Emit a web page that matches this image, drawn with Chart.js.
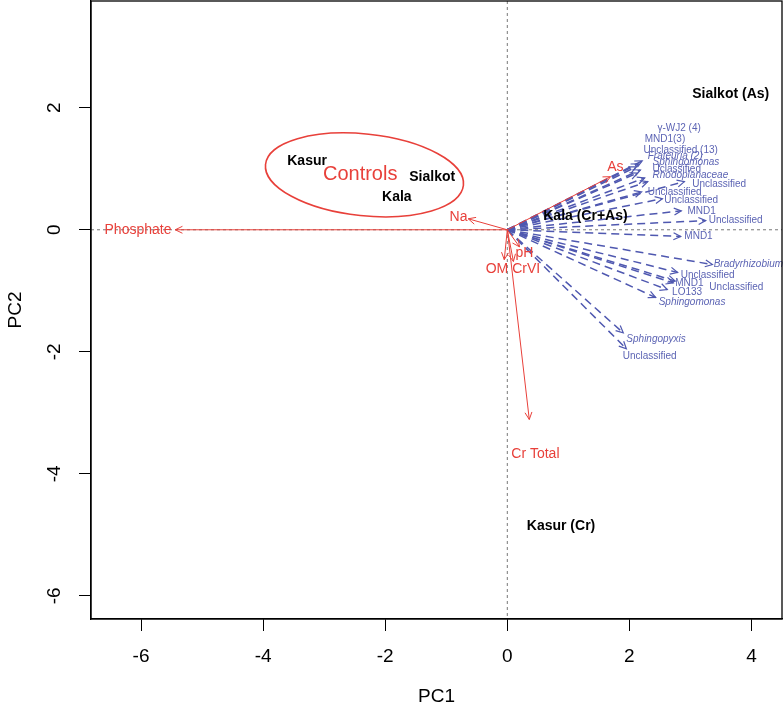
<!DOCTYPE html>
<html>
<head>
<meta charset="utf-8">
<script src="https://cdn.jsdelivr.net/npm/chart.js@4"></script>
<style>
  html, body { margin: 0; padding: 0; background: #fff; }
</style>
</head>
<body>
<canvas id="biplot" width="783" height="711"></canvas>
<script>
// Ticks of the two axes
const xTicks = [-6, -4, -2, 0, 2, 4];
const yTicks = [2, 0, -2, -4, -6];

// Sites (bold black text)
const siteNames = ['Sialkot (As)', 'Kasur', 'Sialkot', 'Kala', 'Kala (Cr+As)', 'Kasur (Cr)'];
const siteX = [3.66, -3.28, -1.23, -1.81, 1.28, 0.88];
const siteY = [2.23, 1.13, 0.87, 0.53, 0.22, -4.85];

// Environmental vectors (red arrows): tip and label position
const envNames = ['Phosphate', 'Na', 'As', 'OM', 'CrVI', 'pH', 'Cr Total'];
const envX = [-5.44, -0.64, 1.69, -0.05, 0.10, 0.20, 0.36];
const envY = [0.00, 0.18, 0.87, -0.49, -0.52, -0.28, -3.11];
const envLabelX = [-6.05, -0.80, 1.77, -0.17, 0.31, 0.28, 0.46];
const envLabelY = [0.00, 0.21, 1.02, -0.64, -0.64, -0.39, -3.67];

// Taxa (blue dashed arrows): tip, label left edge, italic flag
const taxaNames = ['\u03B3-WJ2 (4)', 'MND1(3)', 'Unclassified (13)', 'Frateuria (2)', 'Sphingomonas',
  'Uclassified', 'Rhodoplanaceae', 'Unclassified', 'Unclassified', 'Unclassified', 'MND1',
  'Unclassified', 'MND1', 'Bradyrhizobium', 'Unclassified', 'MND1', 'Unclassified', 'LO133',
  'Sphingomonas', 'Sphingopyxis', 'Unclassified'];
const taxaX = [2.21, 2.15, 2.11, 2.18, 2.13, 2.25, 2.30, 2.90, 2.20, 2.54, 2.85, 3.25, 2.84,
  3.36, 2.79, 2.72, 2.75, 2.62, 2.43, 1.90, 1.95];
const taxaY = [1.13, 1.08, 1.03, 0.98, 0.93, 0.85, 0.79, 0.79, 0.62, 0.51, 0.31, 0.15, -0.11,
  -0.57, -0.70, -0.87, -0.84, -0.98, -1.11, -1.69, -1.95];
const taxaLabelX = [2.46, 2.25, 2.23, 2.30, 2.38, 2.38, 2.38, 3.03, 2.30, 2.57, 2.95, 3.30, 2.90,
  3.38, 2.84, 2.75, 3.31, 2.70, 2.48, 1.95, 1.89];
const taxaLabelY = [1.66, 1.48, 1.31, 1.20, 1.10, 1.00, 0.90, 0.75, 0.62, 0.49, 0.31, 0.15, -0.11,
  -0.57, -0.74, -0.87, -0.95, -1.03, -1.18, -1.79, -2.08];
const taxaItalic = [0, 0, 0, 1, 1, 0, 1, 0, 0, 0, 0, 0, 0, 1, 0, 0, 0, 0, 1, 1, 0];

// Controls ellipse
const ctrlLabel = 'Controls';
const ctrlCenter = [-2.34, 0.90];
const ctrlRadii = [1.63, 0.67];

const RED = '#e8403a';
const BLUE = '#4f58b0';
const BLUE_TXT = '#5c64b4';
const FONT = '"Liberation Sans", Arial, sans-serif';

let datasets = [];
envNames.forEach((n, i) => {
  datasets.push({
    label: n, kind: 'env',
    data: [{x: 0, y: 0}, {x: envX[i], y: envY[i]}],
    showLine: true, borderColor: RED, borderWidth: 1, pointRadius: 0
  });
});
taxaNames.forEach((n, i) => {
  datasets.push({
    label: n, kind: 'taxa',
    data: [{x: 0, y: 0}, {x: taxaX[i], y: taxaY[i]}],
    showLine: true, borderColor: BLUE, borderWidth: 1.5, borderDash: [8, 5], pointRadius: 0
  });
});
datasets.push({
  label: 'sites', kind: 'sites',
  data: siteX.map((v, i) => ({x: v, y: siteY[i]})),
  pointRadius: 0
});

function arrowHead(ctx, x1, y1, x2, y2, len) {
  const a = Math.atan2(y2 - y1, x2 - x1);
  ctx.beginPath();
  ctx.moveTo(x2 - len * Math.cos(a - 0.45), y2 - len * Math.sin(a - 0.45));
  ctx.lineTo(x2, y2);
  ctx.lineTo(x2 - len * Math.cos(a + 0.45), y2 - len * Math.sin(a + 0.45));
  ctx.stroke();
}

const biplotDraw = {
  id: 'biplotDraw',
  beforeDatasetsDraw(chart) {
    const {ctx, chartArea: a, scales: {x, y}} = chart;
    const x0 = x.getPixelForValue(0), y0 = y.getPixelForValue(0);
    ctx.save();
    ctx.strokeStyle = '#777';
    ctx.lineWidth = 1;
    ctx.setLineDash([3, 3]);
    ctx.beginPath();
    ctx.moveTo(x0, a.top); ctx.lineTo(x0, a.bottom);
    ctx.moveTo(a.left, y0); ctx.lineTo(a.right, y0);
    ctx.stroke();
    ctx.restore();
  },
  afterDatasetsDraw(chart) {
    const {ctx, chartArea: a, scales: {x, y}} = chart;
    const x0 = x.getPixelForValue(0), y0 = y.getPixelForValue(0);
    ctx.save();
    ctx.setLineDash([]);

    // arrow heads
    ctx.lineWidth = 1;
    ctx.strokeStyle = RED;
    envX.forEach((v, i) => arrowHead(ctx, x0, y0, x.getPixelForValue(v), y.getPixelForValue(envY[i]), 8));
    ctx.strokeStyle = BLUE;
    ctx.lineWidth = 1.2;
    taxaX.forEach((v, i) => arrowHead(ctx, x0, y0, x.getPixelForValue(v), y.getPixelForValue(taxaY[i]), 8));

    // taxa labels
    ctx.fillStyle = BLUE_TXT;
    ctx.textAlign = 'left';
    ctx.textBaseline = 'middle';
    taxaNames.forEach((n, i) => {
      ctx.font = (taxaItalic[i] ? 'italic ' : '') + '10px ' + FONT;
      ctx.fillText(n, x.getPixelForValue(taxaLabelX[i]), y.getPixelForValue(taxaLabelY[i]));
    });

    // env labels
    ctx.fillStyle = RED;
    ctx.textAlign = 'center';
    ctx.font = '14px ' + FONT;
    envNames.forEach((n, i) => {
      ctx.fillText(n, x.getPixelForValue(envLabelX[i]), y.getPixelForValue(envLabelY[i]));
    });

    // site labels
    ctx.fillStyle = '#000';
    ctx.font = 'bold 14px ' + FONT;
    siteNames.forEach((n, i) => {
      ctx.fillText(n, x.getPixelForValue(siteX[i]), y.getPixelForValue(siteY[i]));
    });

    // controls ellipse
    const cx = x.getPixelForValue(ctrlCenter[0]), cy = y.getPixelForValue(ctrlCenter[1]);
    const rx = Math.abs(x.getPixelForValue(ctrlCenter[0] + ctrlRadii[0]) - cx);
    const ry = Math.abs(y.getPixelForValue(ctrlCenter[1] + ctrlRadii[1]) - cy);
    ctx.strokeStyle = RED;
    ctx.lineWidth = 1.6;
    ctx.beginPath();
    ctx.ellipse(cx, cy, rx, ry, 6 * Math.PI / 180, 0, 2 * Math.PI);
    ctx.stroke();
    ctx.fillStyle = RED;
    ctx.font = '20px ' + FONT;
    ctx.fillText(ctrlLabel, x.getPixelForValue(-2.41), y.getPixelForValue(0.90));

    // frame
    ctx.strokeStyle = '#000';
    ctx.lineWidth = 1.3;
    ctx.strokeRect(a.left, a.top, a.right - a.left, a.bottom - a.top);

    // tick labels
    ctx.fillStyle = '#000';
    ctx.font = '19px ' + FONT;
    xTicks.forEach(v => ctx.fillText(String(v), x.getPixelForValue(v), 657));
    yTicks.forEach(v => {
      ctx.save();
      ctx.translate(55, y.getPixelForValue(v));
      ctx.rotate(-Math.PI / 2);
      ctx.fillText(String(v), 0, 0);
      ctx.restore();
    });

    // axis titles
    ctx.fillText('PC1', (a.left + a.right) / 2, 697);
    ctx.save();
    ctx.translate(16, (a.top + a.bottom) / 2);
    ctx.rotate(-Math.PI / 2);
    ctx.fillText('PC2', 0, 0);
    ctx.restore();
    ctx.restore();
  }
};

new Chart(document.getElementById('biplot'), {
  type: 'scatter',
  data: {datasets: datasets},
  options: {
    responsive: false,
    animation: false,
    layout: {padding: {top: 1, right: 1, left: 0, bottom: 0}},
    plugins: {legend: {display: false}, tooltip: {enabled: false}},
    scales: {
      x: {
        type: 'linear', min: -6.82, max: 4.50,
        afterBuildTicks: s => { s.ticks = xTicks.map(v => ({value: v})); },
        afterFit: s => { s.height = 92; },
        ticks: {display: false},
        grid: {drawOnChartArea: false, drawTicks: true, tickLength: 12, color: '#000', lineWidth: 1},
        border: {display: true, color: '#000', width: 1.3}
      },
      y: {
        type: 'linear', min: -6.38, max: 3.75,
        afterBuildTicks: s => { s.ticks = yTicks.map(v => ({value: v})); },
        afterFit: s => { s.width = 91; },
        ticks: {display: false},
        grid: {drawOnChartArea: false, drawTicks: true, tickLength: 12, color: '#000', lineWidth: 1},
        border: {display: true, color: '#000', width: 1.3}
      }
    }
  },
  plugins: [biplotDraw]
});
</script>
</body>
</html>
